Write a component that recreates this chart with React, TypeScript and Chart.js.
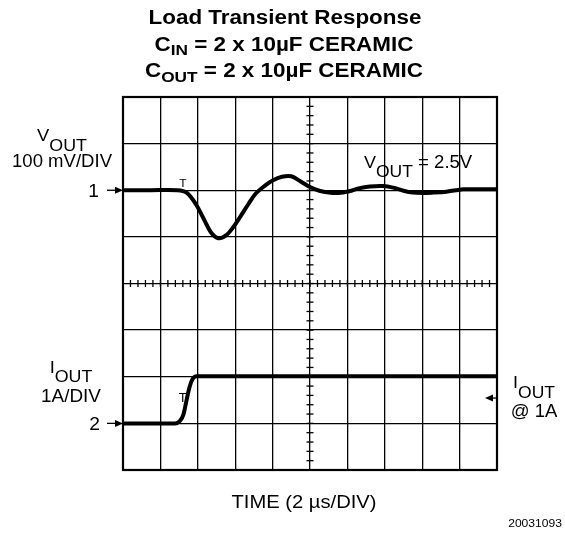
import React, { useEffect, useRef } from "react";
import { Chart, registerables } from "chart.js";

Chart.register(...registerables);

// Time axis in microseconds (2 us/div, 10 divisions)
const timeMin = 0;
const timeMax = 20;
const timeStep = 2;

// VOUT deviation (mV) around the channel-1 marker, 100 mV/div
const vTime = [0, 1.5, 2.9, 3.4, 3.9, 4.3, 4.7, 5.1, 5.5, 5.9, 6.3, 6.7, 7.1, 7.6, 8.0, 8.5, 9.0, 9.5, 10.0, 10.5, 11.0, 11.5, 12.1, 12.6, 13.2, 13.9, 14.5, 15.0, 15.5, 16.0, 16.6, 17.3, 17.8, 18.2, 19.0, 20];
const vDev = [0, 0, 0, -5, -30, -60, -90, -103, -97, -79, -55, -30, -7, 10, 21, 29, 30, 19, 7, -1, -5, -6, -2, 4, 8, 9, 5, -1, -5, -6, -5, -3, 0, 2, 2, 2];

// IOUT (A) above the channel-2 marker, 1 A/div
const iTime = [0, 2.78, 3.04, 3.24, 3.4, 3.56, 3.72, 3.94, 20];
const iAmp = [0, 0, 0.05, 0.2, 0.5, 0.78, 0.95, 1.01, 1.01];

// Screen is 8 divisions tall; channel markers (division index from bottom)
const vMarkerDiv = 6;
const vScaleMvPerDiv = 100;
const iMarkerDiv = 1;
const iScaleAPerDiv = 1;

const FONT = "'Liberation Sans', Arial, Helvetica, sans-serif";

type Part = { t: string; size: number; bold?: boolean; dy?: number };

function drawRich(ctx: CanvasRenderingContext2D, parts: Part[], x: number, y: number, align: "left" | "center" | "right", sx = 1.1) {
  ctx.save();
  ctx.textBaseline = "alphabetic";
  ctx.textAlign = "left";
  let total = 0;
  const widths: number[] = [];
  for (const p of parts) {
    ctx.font = `${p.bold ? "bold " : ""}${p.size}px ${FONT}`;
    const w = ctx.measureText(p.t).width * sx;
    widths.push(w);
    total += w;
  }
  let cx = align === "left" ? x : align === "center" ? x - total / 2 : x - total;
  parts.forEach((p, i) => {
    ctx.font = `${p.bold ? "bold " : ""}${p.size}px ${FONT}`;
    ctx.save();
    ctx.translate(cx, y + (p.dy || 0));
    ctx.scale(sx, 1);
    ctx.fillText(p.t, 0, 0);
    ctx.restore();
    cx += widths[i];
  });
  ctx.restore();
}

function arrow(ctx: CanvasRenderingContext2D, x1: number, x2: number, y: number) {
  const dir = x2 > x1 ? 1 : -1;
  ctx.save();
  ctx.strokeStyle = "#000";
  ctx.fillStyle = "#000";
  ctx.lineWidth = 1.3;
  ctx.beginPath();
  ctx.moveTo(x1, y);
  ctx.lineTo(x2 - dir * 6, y);
  ctx.stroke();
  ctx.beginPath();
  ctx.moveTo(x2, y);
  ctx.lineTo(x2 - dir * 8, y - 3.5);
  ctx.lineTo(x2 - dir * 8, y + 3.5);
  ctx.closePath();
  ctx.fill();
  ctx.restore();
}

const scopePlugin = {
  id: "scopeDecor",
  beforeDatasetsDraw(chart: any) {
    const { ctx, chartArea, scales } = chart;
    const { left, right, top, bottom } = chartArea;
    const x = scales.x;
    const y = scales.y;
    ctx.save();
    ctx.strokeStyle = "#000";
    ctx.lineWidth = 1.3;
    const cy = y.getPixelForValue(4);
    for (let v = timeMin; v <= timeMax + 1e-6; v += timeStep / 5) {
      const px = x.getPixelForValue(v);
      ctx.beginPath();
      ctx.moveTo(px, cy - 3.5);
      ctx.lineTo(px, cy + 3.5);
      ctx.stroke();
    }
    const cx = x.getPixelForValue((timeMin + timeMax) / 2);
    for (let v = 0; v <= 8 + 1e-6; v += 0.2) {
      const py = y.getPixelForValue(v);
      ctx.beginPath();
      ctx.moveTo(cx - 3.5, py);
      ctx.lineTo(cx + 3.5, py);
      ctx.stroke();
    }
    ctx.lineWidth = 2.2;
    ctx.strokeRect(left, top, right - left, bottom - top);
    ctx.restore();
  },
  afterDraw(chart: any) {
    const { ctx, chartArea, scales } = chart;
    const { left, right } = chartArea;
    const y = scales.y;
    const x = scales.x;
    ctx.save();
    ctx.fillStyle = "#000";
    // Title
    drawRich(ctx, [{ t: "Load Transient Response", size: 19.5, bold: true }], 285, 24, "center", 1.15);
    drawRich(ctx, [
      { t: "C", size: 19.5, bold: true },
      { t: "IN", size: 15, bold: true, dy: 4 },
      { t: " = 2 x 10µF CERAMIC", size: 19.5, bold: true },
    ], 284, 50.5, "center", 1.15);
    drawRich(ctx, [
      { t: "C", size: 19.5, bold: true },
      { t: "OUT", size: 15, bold: true, dy: 5 },
      { t: " = 2 x 10µF CERAMIC", size: 19.5, bold: true },
    ], 284, 77, "center", 1.15);

    // Channel 1 labels
    drawRich(ctx, [{ t: "V", size: 17 }, { t: "OUT", size: 16.5, dy: 10 }], 62, 141, "center", 1.08);
    drawRich(ctx, [{ t: "100 mV/DIV", size: 17.5 }], 62, 167, "center", 1.06);
    const y1 = y.getPixelForValue(vMarkerDiv);
    drawRich(ctx, [{ t: "1", size: 17.5 }], 99, y1 + 6.5, "right");
    arrow(ctx, 107, left, y1);
    drawRich(ctx, [{ t: "V", size: 17 }, { t: "OUT", size: 16.5, dy: 9 }, { t: " = 2.5V", size: 17.5 }], 364, 168, "left", 1.06);

    // Channel 2 labels
    drawRich(ctx, [{ t: "I", size: 17 }, { t: "OUT", size: 16.5, dy: 9 }], 71, 373, "center", 1.08);
    drawRich(ctx, [{ t: "1A/DIV", size: 17.5 }], 71, 402, "center", 1.08);
    const y2 = y.getPixelForValue(iMarkerDiv);
    drawRich(ctx, [{ t: "2", size: 17.5 }], 100, y2 + 6.5, "right");
    arrow(ctx, 107, left, y2);

    const yi = y.getPixelForValue(iMarkerDiv + 0.5);
    arrow(ctx, right, right - 12, yi - 2);
    drawRich(ctx, [{ t: "I", size: 17 }, { t: "OUT", size: 16.5, dy: 10 }], 534, 388, "center", 1.06);
    drawRich(ctx, [{ t: "@ 1A", size: 17.5 }], 534, 417, "center", 1.06);

    // Trigger markers
    const tx = x.getPixelForValue(3.2);
    drawRich(ctx, [{ t: "T", size: 10 }], tx, y1 - 3, "center", 1.2);
    drawRich(ctx, [{ t: "T", size: 13 }], tx, y2 - 21, "center", 1);

    // X axis label
    drawRich(ctx, [{ t: "TIME (2 µs/DIV)", size: 18 }], 304, 508, "center", 1.12);
    drawRich(ctx, [{ t: "20031093", size: 11 }], 562, 527, "right", 1.1);
    ctx.restore();
  },
};

export default function App() {
  const ref = useRef<HTMLCanvasElement | null>(null);
  useEffect(() => {
    if (!ref.current) return;
    const vData = vTime.map((t, i) => ({ x: t, y: vMarkerDiv + vDev[i] / vScaleMvPerDiv }));
    const iData = iTime.map((t, i) => ({ x: t, y: iMarkerDiv + iAmp[i] / iScaleAPerDiv }));
    const chart = new Chart(ref.current, {
      type: "scatter",
      data: {
        datasets: [
          { label: "VOUT", data: vData, showLine: true, borderColor: "#000", borderWidth: 4, pointRadius: 0, tension: 0.35, fill: false, borderCapStyle: "round", borderJoinStyle: "round" } as any,
          { label: "IOUT", data: iData, showLine: true, borderColor: "#000", borderWidth: 4, pointRadius: 0, cubicInterpolationMode: "monotone", fill: false, borderJoinStyle: "round" } as any,
        ],
      },
      options: {
        animation: false,
        responsive: false,
        layout: { padding: { left: 123, right: 68, top: 97, bottom: 65 } },
        plugins: { legend: { display: false }, title: { display: false }, tooltip: { enabled: false } },
        scales: {
          x: {
            type: "linear", min: timeMin, max: timeMax,
            ticks: { stepSize: timeStep, display: false },
            grid: { color: "#000", lineWidth: 1.3, drawTicks: false },
            border: { display: false },
            afterFit: (s: any) => { s.height = 0; },
          },
          y: {
            type: "linear", min: 0, max: 8,
            ticks: { stepSize: 1, display: false },
            grid: { color: "#000", lineWidth: 1.3, drawTicks: false },
            border: { display: false },
            afterFit: (s: any) => { s.width = 0; },
          },
        },
      },
      plugins: [scopePlugin],
    });
    return () => chart.destroy();
  }, []);
  return (
    <div style={{ position: "fixed", left: 0, top: 0, width: 565, height: 535, background: "#fff" }}>
      <canvas ref={ref} width={565} height={535} />
    </div>
  );
}
